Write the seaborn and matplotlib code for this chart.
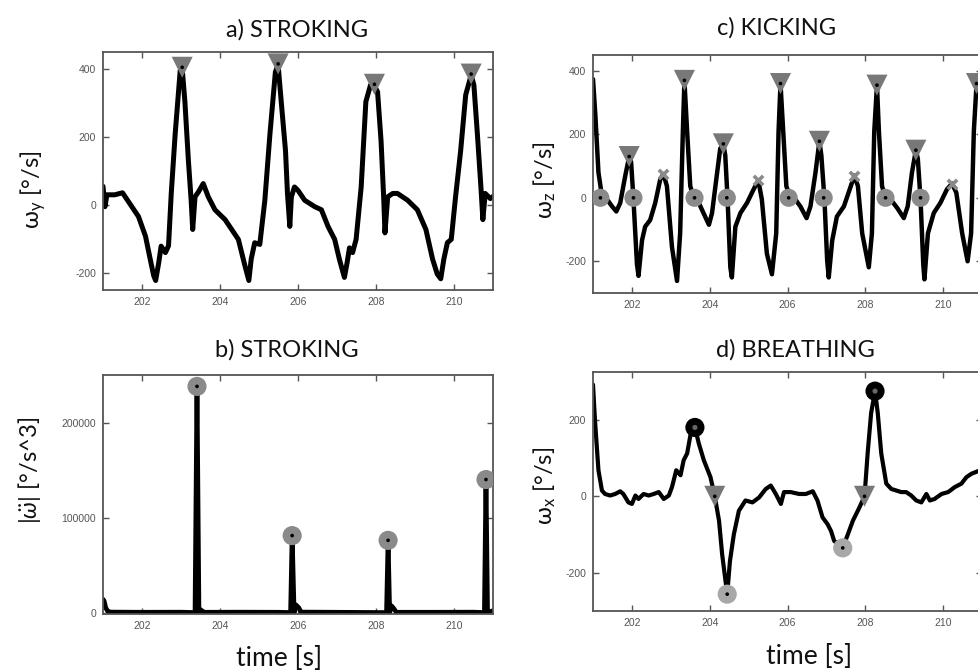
import numpy as np
import pandas as pd
import matplotlib
matplotlib.use("Agg")
import matplotlib.pyplot as plt
import seaborn as sns

# ---------------------------------------------------------------
# data (time [s], value)
# ---------------------------------------------------------------
# a) stroking, omega_y
a_t = [201.0, 201.05, 201.1, 201.3, 201.5, 201.74, 201.91, 202.09, 202.21, 202.3, 202.35,
       202.43, 202.49, 202.6, 202.68, 202.75, 202.85, 202.98, 203.03, 203.1, 203.19, 203.26,
       203.3, 203.36, 203.45, 203.57, 203.7, 203.87, 204.13, 204.3, 204.47, 204.64, 204.74,
       204.8, 204.89, 205.02, 205.15, 205.28, 205.42, 205.49, 205.57, 205.68, 205.73, 205.79,
       205.83, 205.91, 206.0, 206.17, 206.43, 206.6, 206.77, 206.94, 207.06, 207.19, 207.26,
       207.32, 207.4, 207.49, 207.62, 207.74, 207.86, 207.96, 208.04, 208.13, 208.2, 208.23,
       208.3, 208.43, 208.55, 208.81, 209.06, 209.28, 209.45, 209.57, 209.66, 209.74, 209.83,
       209.93, 210.04, 210.17, 210.3, 210.44, 210.51, 210.6, 210.69, 210.74, 210.8, 210.93, 211.0]
a_v = [55, -5, 30, 30, 36, -5, -34, -92, -159, -208, -222,
       -169, -121, -140, -120, 34, 208, 396, 402, 304, 130, 14,
       -72, 24, 39, 63, 24, -14, -43, -72, -101, -179, -222,
       -159, -111, -116, 14, 208, 391, 412, 304, 159, 34, -63,
       24, 53, 43, 14, -5, -14, -63, -101, -159, -213, -169,
       -126, -140, -101, 53, 304, 353, 350, 333, 188, 14, -82,
       24, 34, 34, 14, -14, -72, -159, -203, -217, -159, -111,
       -101, 24, 159, 324, 382, 353, 208, 53, -43, 34, 19, 25]
a_tri_t = [203.03, 205.49, 207.96, 210.44]
a_tri_v = [405, 415, 355, 385]

# b) stroking, |omega''|
b_t = [201.0, 201.03, 201.07, 201.12, 201.2, 202.0, 203.0, 203.36, 203.41, 203.46, 203.5,
       203.55, 203.6, 204.5, 205.5, 205.81, 205.85, 205.9, 205.95, 206.02, 206.08, 207.0,
       208.27, 208.31, 208.35, 208.4, 208.46, 208.52, 209.5, 210.5, 210.78, 210.82, 210.86, 211.0]
b_v = [14000, 12000, 5000, 1500, 500, 300, 400, 0, 238000, 0, 3000,
       1500, 300, 400, 300, 0, 81000, 0, 8000, 5000, 500, 300,
       0, 76000, 0, 7000, 4000, 300, 300, 400, 0, 140000, 0, 2000]
b_pk_t = [203.41, 205.85, 208.31, 210.82]
b_pk_v = [238000, 81000, 76000, 140000]

# c) kicking, omega_z
c_t = [201.0, 201.06, 201.14, 201.23, 201.36, 201.49, 201.6, 201.7, 201.83, 201.93, 201.98,
       202.04, 202.13, 202.17, 202.26, 202.34, 202.47, 202.6, 202.73, 202.81, 202.9, 203.03,
       203.16, 203.24, 203.31, 203.35, 203.42, 203.5, 203.59, 203.72, 203.84, 203.98, 204.06,
       204.17, 204.27, 204.35, 204.4, 204.46, 204.53, 204.57, 204.66, 204.79, 204.96, 205.13,
       205.25, 205.34, 205.47, 205.6, 205.71, 205.77, 205.82, 205.89, 205.97, 206.07, 206.2,
       206.33, 206.49, 206.59, 206.72, 206.82, 206.87, 206.95, 207.02, 207.06, 207.15, 207.27,
       207.45, 207.6, 207.72, 207.81, 207.92, 208.09, 208.17, 208.23, 208.3, 208.35, 208.43,
       208.52, 208.65, 208.82, 208.99, 209.09, 209.2, 209.3, 209.35, 209.42, 209.49, 209.52,
       209.61, 209.76, 209.93, 210.1, 210.23, 210.34, 210.49, 210.63, 210.72, 210.79, 210.86,
       210.93, 211.0]
c_v = [374, 262, 80, 5, -5, -27, -43, -16, 70, 130, 112,
       -5, -209, -246, -134, -91, -70, -16, 59, 75, 37, -155,
       -262, -112, 209, 370, 209, 37, 0, -16, -48, -85, -48,
       59, 155, 170, 134, -5, -219, -251, -91, -48, -16, 27,
       55, -5, -176, -241, -112, 209, 360, 209, 37, 0, -5,
       -27, -64, -27, 80, 178, 134, -5, -198, -251, -134, -59,
       -27, 27, 70, 37, -112, -219, -112, 209, 355, 209, 37,
       0, -5, -32, -64, -27, 80, 150, 123, -5, -209, -257,
       -112, -48, -16, 27, 45, 16, -112, -200, -112, 209, 360,
       316, 200]
c_tri_t = [201.93, 203.35, 204.35, 205.82, 206.82, 208.3, 209.3, 210.86]
c_tri_v = [130, 370, 170, 360, 178, 355, 150, 360]
c_zero_t = [201.19, 202.04, 203.61, 204.44, 206.03, 206.93, 208.52, 209.42]
c_zero_v = [0, 0, 0, 0, 0, 0, 0, 0]
c_x_t = [202.81, 205.25, 207.72, 210.23]
c_x_v = [75, 55, 70, 45]

# d) breathing, omega_x
d_t = [201.0, 201.05, 201.14, 201.23, 201.31, 201.44, 201.57, 201.7, 201.78, 201.91, 202.0,
       202.09, 202.17, 202.3, 202.43, 202.56, 202.69, 202.82, 202.95, 203.03, 203.14, 203.25,
       203.33, 203.42, 203.53, 203.62, 203.72, 203.85, 204.02, 204.13, 204.24, 204.32, 204.45,
       204.52, 204.62, 204.75, 204.92, 205.1, 205.27, 205.44, 205.57, 205.7, 205.83, 205.91,
       206.08, 206.3, 206.47, 206.65, 206.77, 206.9, 207.03, 207.12, 207.2, 207.33, 207.42,
       207.55, 207.68, 207.85, 207.98, 208.06, 208.15, 208.25, 208.32, 208.41, 208.54, 208.67,
       208.8, 208.92, 209.05, 209.18, 209.31, 209.44, 209.57, 209.66, 209.78, 209.96, 210.13,
       210.3, 210.47, 210.6, 210.73, 210.83, 211.0]
d_v = [292, 200, 68, 15, 6, 2, 6, 13, 6, -16, -20,
       2, -7, 6, 2, 6, 11, -7, 2, 24, 68, 55,
       94, 112, 174, 180, 138, 94, 50, 0, -64, -152, -256,
       -170, -100, -38, -11, -16, -3, 19, 28, 6, -20, 11,
       11, 6, 6, 13, -11, -55, -73, -91, -117, -126, -135,
       -100, -64, -29, 0, 112, 218, 275, 218, 112, 33, 19,
       15, 11, 11, 2, -11, -16, 6, -11, -7, 6, 11,
       24, 33, 50, 59, 63, 70]
d_max_t = [203.62, 208.25]
d_max_v = [180, 275]
d_min_t = [204.45, 207.42]
d_min_v = [-256, -135]
d_tri_t = [204.13, 207.98]
d_tri_v = [0, 0]

# ---------------------------------------------------------------
sns.set_theme(style="white")
plt.rcParams["font.family"] = ["Lato", "DejaVu Sans"]
plt.rcParams["mathtext.fontset"] = "custom"
plt.rcParams["mathtext.rm"] = "Lato"
plt.rcParams["mathtext.it"] = "Lato:italic"
plt.rcParams["axes.unicode_minus"] = False

W, H = 979, 670
fig = plt.figure(figsize=(W / 100, H / 100), dpi=100)


def px_axes(x0, y0, x1, y1):
    return fig.add_axes([x0 / W, 1 - y1 / H, (x1 - x0) / W, (y1 - y0) / H])


def style_ax(ax, ylim, yticks, yticklabels=None):
    ax.set_xlim(201, 211)
    ax.set_ylim(*ylim)
    ax.set_xticks([202, 204, 206, 208, 210])
    ax.set_yticks(yticks)
    if yticklabels is not None:
        ax.set_yticklabels(yticklabels)
    ax.tick_params(direction="in", length=4, width=1, color="#555555",
                   labelsize=7.5, labelcolor="#555555", top=True, right=True,
                   bottom=True, left=True, pad=5)
    for lab in ax.get_xticklabels() + ax.get_yticklabels():
        lab.set_family("Liberation Sans")
    for sp in ax.spines.values():
        sp.set_color("#555555")
        sp.set_linewidth(1.3)
    ax.set_xlabel("")
    ax.set_ylabel("")
    ax.grid(False)


def trace(ax, t, v, lw=3.4):
    sns.lineplot(x=t, y=v, ax=ax, color="black", lw=lw, estimator=None,
                 sort=False, zorder=2)


def marks(ax, t, v, marker, size, color, dot="black", dot_size=7):
    sns.scatterplot(x=t, y=v, ax=ax, marker=marker, s=size, color=color,
                    edgecolor="none", zorder=3, legend=False)
    if dot:
        sns.scatterplot(x=t, y=v, ax=ax, marker="o", s=dot_size, color=dot,
                        edgecolor="none", zorder=4, legend=False)


TRI = "#787878"
CIR = "#8a8a8a"

# a) stroking
ax_a = px_axes(103, 52, 493, 290)
trace(ax_a, a_t, a_v, lw=3.6)
marks(ax_a, a_tri_t, a_tri_v, "v", 230, TRI)
style_ax(ax_a, (-250, 450), [-200, 0, 200, 400])

# c) kicking
ax_c = px_axes(593, 55, 982, 293)
trace(ax_c, c_t, c_v, lw=3.2)
marks(ax_c, c_tri_t, c_tri_v, "v", 230, TRI)
marks(ax_c, c_zero_t, c_zero_v, "o", 170, CIR)
sns.scatterplot(x=c_x_t, y=c_x_v, ax=ax_c, marker="x", s=45, color=CIR,
                linewidth=2.6, zorder=3, legend=False)
style_ax(ax_c, (-300, 450), [-200, 0, 200, 400])

# b) stroking, jerk
ax_b = px_axes(103, 375, 493, 614)
trace(ax_b, b_t, b_v, lw=3.4)
marks(ax_b, b_pk_t, b_pk_v, "o", 190, CIR)
style_ax(ax_b, (-1500, 250000), [0, 100000, 200000], ["0", "100000", "200000"])

# d) breathing
ax_d = px_axes(593, 372, 982, 611)
trace(ax_d, d_t, d_v, lw=3.0)
marks(ax_d, d_tri_t, d_tri_v, "v", 230, TRI)
marks(ax_d, d_min_t, d_min_v, "o", 190, "#a8a8a8")
marks(ax_d, d_max_t, d_max_v, "o", 190, "black", dot="#666666", dot_size=14)
style_ax(ax_d, (-300, 325), [-200, 0, 200])

# titles and axis labels placed like the original
tkw = dict(fontsize=17, ha="center", va="center", color="#111111")
fig.text(297 / W, 1 - 30 / H, "a) STROKING", **tkw)
fig.text(777 / W, 1 - 28 / H, "c) KICKING", **tkw)
fig.text(287 / W, 1 - 350 / H, "b) STROKING", **tkw)
fig.text(795 / W, 1 - 350 / H, "d) BREATHING", **tkw)

lkw = dict(fontsize=17, ha="center", va="center", rotation=90, color="#111111")
fig.text(33 / W, 1 - 190 / H, r"ω$_\mathregular{y}$ [°/s]", **lkw)
fig.text(545 / W, 1 - 180 / H, r"ω$_\mathregular{z}$ [°/s]", **lkw)
fig.text(30 / W, 1 - 470 / H, r"$|\ddot{\omega}|$ [°/s^3]", **lkw)
fig.text(545 / W, 1 - 486 / H, r"ω$_\mathregular{x}$ [°/s]", **lkw)

xkw = dict(fontsize=19, ha="center", va="center", color="#111111")
fig.text(279 / W, 1 - 659 / H, "time [s]", **xkw)
fig.text(809 / W, 1 - 657 / H, "time [s]", **xkw)

fig.savefig("out.png", dpi=100)
